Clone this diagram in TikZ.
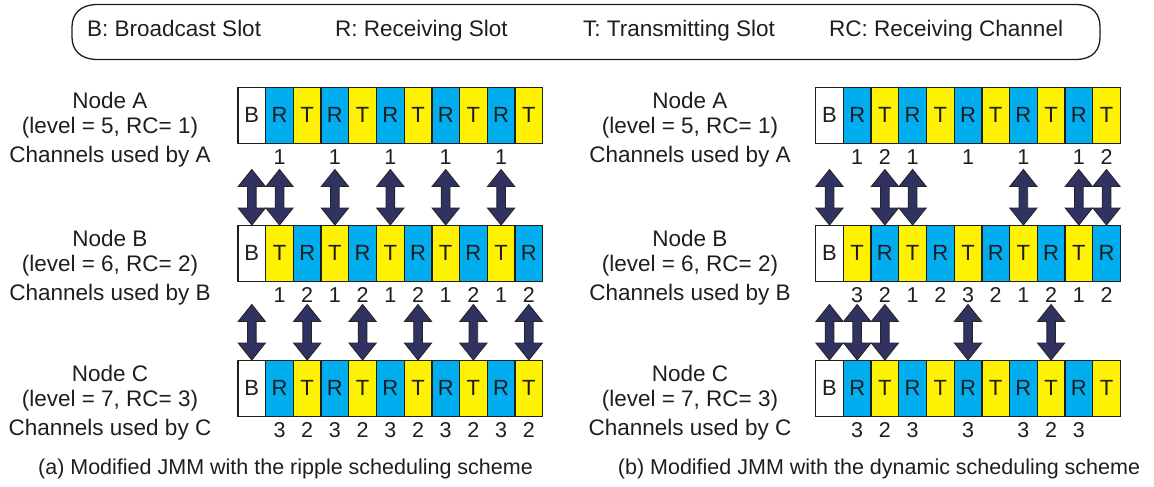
\documentclass[tikz,border=0pt]{standalone}
\usepackage{fontspec}
\setmainfont{Liberation Sans}
\usetikzlibrary{calc}

\definecolor{slotcyan}{RGB}{0,174,239}
\definecolor{slotyellow}{RGB}{255,242,0}
\definecolor{arrowfill}{RGB}{48,50,98}
\definecolor{inkgray}{RGB}{30,30,30}
\colorlet{colB}{white}
\colorlet{colR}{slotcyan}
\colorlet{colT}{slotyellow}

% one row of eleven slots: name prefix, left x, top y, slot letters
\newcommand\slotrow[4]{%
  \foreach \s [count=\i from 0] in {#4} {%
    \node[slot, fill=col\s] (#1-\i) at ({#2+\i*27.7},#3) {\s};}}
% channel numbers under a row: name prefix, list of cell/number
\newcommand\chanrow[2]{%
  \foreach \c/\v in {#2} {%
    \node[chnum] (#1n-\c) at ($(#1-\c.south)+(0,21)$) {\v};}}
% double-headed block arrow standing on the top edge of a slot
\newcommand\linkarrow[1]{%
  \draw[linkarr] (#1.north) -- ++(13.6,-17) -- ++(-9.3,0) -- ++(0,-21.5)
    -- ++(9.3,0) -- ++(-13.6,-17) -- ++(-13.6,17) -- ++(9.3,0)
    -- ++(0,21.5) -- ++(-9.3,0) -- cycle;}
% three-line caption left of a row: name, centre x, row top, node, level, RC
\newcommand\nodelabel[6]{%
  \node[lbltext] (#1-t1) at (#2,#3+21) {Node #4};
  \node[lbltext] (#1-t2) at (#2,#3+46) {(level = #5, RC= #6)};
  \node[lbltext] (#1-t3) at (#2,#3+75) {Channels used by #4};}

\begin{document}
\begin{tikzpicture}[x=1pt,y=-1pt,
  every node/.style={text=inkgray},
  slot/.style={draw=inkgray, line width=1.3pt, minimum width=27.7pt,
    minimum height=55.5pt, inner sep=0pt, anchor=north west,
    font=\fontsize{22}{22}\selectfont},
  chnum/.style={anchor=base, inner sep=0pt, font=\fontsize{21.5}{21.5}\selectfont},
  lbltext/.style={anchor=base, inner sep=0pt, font=\fontsize{22.5}{22.5}\selectfont},
  legtext/.style={anchor=base west, inner sep=0pt, font=\fontsize{22.5}{22.5}\selectfont},
  linkarr/.style={fill=arrowfill, draw=black!85, line width=0.9pt, line join=miter},
]
\useasboundingbox (0,0) rectangle (1154,487);

% legend frame
\draw[inkgray, line width=1.3pt]
  (98,4.5) -- (1075,4.5) .. controls (1094,4.5) and (1100,15) .. (1100,27)
  -- (1100,37) .. controls (1100,49) and (1094,59.5) .. (1075,59.5)
  -- (98,59.5) .. controls (79,59.5) and (72,49) .. (72,37)
  -- (72,27) .. controls (72,15) and (79,4.5) .. (98,4.5) -- cycle;
\node[legtext] (legB)  at (87,37)  {B: Broadcast Slot};
\node[legtext] (legR)  at (335,37) {R: Receiving Slot};
\node[legtext] (legT)  at (583,37) {T: Transmitting Slot};
\node[legtext] (legRC) at (829,37) {RC: Receiving Channel};

% (a) ripple scheduling
\slotrow{la}{237.3}{87}{B,R,T,R,T,R,T,R,T,R,T}
\slotrow{lb}{237.3}{225}{B,T,R,T,R,T,R,T,R,T,R}
\slotrow{lc}{237.3}{360}{B,R,T,R,T,R,T,R,T,R,T}
\chanrow{la}{1/1,3/1,5/1,7/1,9/1}
\chanrow{lb}{1/1,2/2,3/1,4/2,5/1,6/2,7/1,8/2,9/1,10/2}
\chanrow{lc}{1/3,2/2,3/3,4/2,5/3,6/2,7/3,8/2,9/3,10/2}
\foreach \k in {0,1,3,5,7,9} {\linkarrow{lb-\k}}
\foreach \k in {0,2,4,6,8,10} {\linkarrow{lc-\k}}
\nodelabel{lA}{110}{87}{A}{5}{1}
\nodelabel{lB}{110}{225}{B}{6}{2}
\nodelabel{lC}{110}{360}{C}{7}{3}
\node[lbltext, font=\fontsize{21.5}{21.5}\selectfont] (capa) at (285.5,474)
  {(a) Modified JMM with the ripple scheduling scheme};

% (b) dynamic scheduling
\slotrow{ra}{815}{87}{B,R,T,R,T,R,T,R,T,R,T}
\slotrow{rb}{815}{225}{B,T,R,T,R,T,R,T,R,T,R}
\slotrow{rc}{815}{360}{B,R,T,R,T,R,T,R,T,R,T}
\chanrow{ra}{1/1,2/2,3/1,5/1,7/1,9/1,10/2}
\chanrow{rb}{1/3,2/2,3/1,4/2,5/3,6/2,7/1,8/2,9/1,10/2}
\chanrow{rc}{1/3,2/2,3/3,5/3,7/3,8/2,9/3}
\foreach \k in {0,2,3,7,9,10} {\linkarrow{rb-\k}}
\foreach \k in {0,1,2,5,8} {\linkarrow{rc-\k}}
\nodelabel{rA}{690}{87}{A}{5}{1}
\nodelabel{rB}{690}{225}{B}{6}{2}
\nodelabel{rC}{690}{360}{C}{7}{3}
\node[lbltext, font=\fontsize{21.5}{21.5}\selectfont] (capb) at (879,474)
  {(b) Modified JMM with the dynamic scheduling scheme};
\end{tikzpicture}
\end{document}
